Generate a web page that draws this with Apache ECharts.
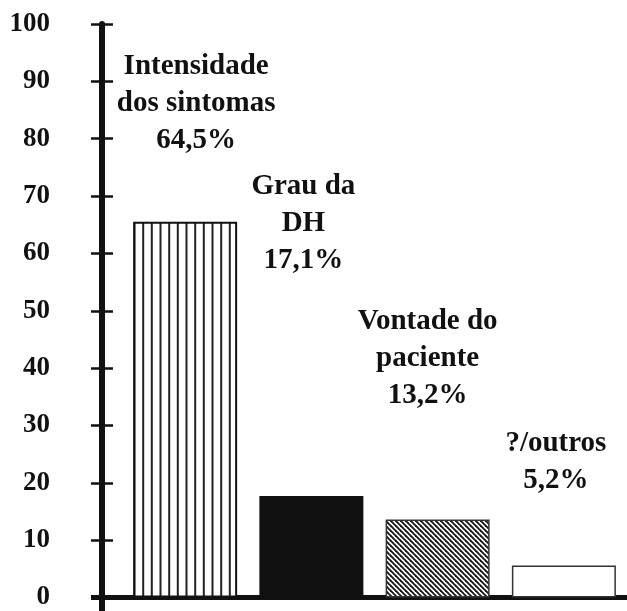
<!DOCTYPE html>
<html>
<head>
<meta charset="utf-8">
<script src="https://cdn.jsdelivr.net/npm/echarts@6/dist/echarts.min.js"></script>
<style>
  html, body { margin: 0; padding: 0; background: #fff; }
  #chart { width: 627px; height: 611px; }
</style>
</head>
<body>
<div id="chart"></div>
<script>
// data
const categories = ['Intensidade\ndos sintomas', 'Grau da\nDH', 'Vontade do\npaciente', '?/outros']
const percentLabels = ['64,5%', '17,1%', '13,2%', '5,2%']
const barValues = [65.5, 17.7, 13.6, 5.6]
const yTicks = [0, 10, 20, 30, 40, 50, 60, 70, 80, 90, 100]

// label placement tweaks (pixels), the labels step down like in the original
const labelShift = [[11, -63], [-8, -217], [-10, -105], [-8, -66]]

const GRID_LEFT = 122
const Y_OFFSET = 20
const INK = '#111'
const FONT = '"Liberation Serif", "Times New Roman", serif'

const stripes = () => {
  const c = document.createElement('canvas')
  c.width = 26
  c.height = 4
  const ctx = c.getContext('2d')
  ctx.fillStyle = '#fff'
  ctx.fillRect(0, 0, 26, 4)
  ctx.fillStyle = '#222'
  ;[3.5, 12.2, 20.8].forEach(x => ctx.fillRect(x, 0, 2, 4))
  return c
}

const hatch = () => {
  const s = 5
  const c = document.createElement('canvas')
  c.width = s
  c.height = s
  const ctx = c.getContext('2d')
  ctx.fillStyle = '#fff'
  ctx.fillRect(0, 0, s, s)
  ctx.strokeStyle = '#1a1a1a'
  ctx.lineWidth = 1.9
  ;[-s, 0, s].forEach(d => {
    ctx.beginPath()
    ctx.moveTo(d - 1, -1)
    ctx.lineTo(d + s + 1, s + 1)
    ctx.stroke()
  })
  return c
}

const barStyles = [
  { color: { image: stripes(), repeat: 'repeat' }, borderColor: INK, borderWidth: 2 },
  { color: INK, borderColor: INK, borderWidth: 0 },
  { color: { image: hatch(), repeat: 'repeat' }, borderColor: '#333', borderWidth: 1.5 },
  { color: '#fff', borderColor: '#333', borderWidth: 1.5 }
]

const chart = echarts.init(document.getElementById('chart'), null, { renderer: 'canvas' })

const yAxisBase = {
  type: 'value',
  min: yTicks[0],
  max: yTicks[yTicks.length - 1],
  interval: 10,
  position: 'left',
  offset: Y_OFFSET,
  splitLine: { show: false }
}

const option = {
  animation: false,
  backgroundColor: '#fff',
  grid: { left: GRID_LEFT, right: -2, top: 24, bottom: 11, containLabel: false },
  xAxis: {
    type: 'category',
    data: categories,
    axisTick: { show: false },
    axisLabel: { show: false },
    axisLine: { lineStyle: { color: INK, width: 5 } }
  },
  yAxis: [
    {
      ...yAxisBase,
      axisLine: { show: true, lineStyle: { color: INK, width: 6 } },
      axisTick: { show: true, length: 11, lineStyle: { color: INK, width: 2.5 } },
      axisLabel: {
        margin: 52,
        color: INK,
        fontFamily: FONT,
        fontWeight: 'bold',
        fontSize: 27
      }
    },
    {
      ...yAxisBase,
      axisLine: { show: false },
      axisTick: { show: true, inside: true, length: 11, lineStyle: { color: INK, width: 2.5 } },
      axisLabel: { show: false }
    }
  ],
  series: [
    {
      type: 'bar',
      barWidth: 104,
      yAxisIndex: 0,
      data: barValues.map((v, i) => ({
        value: v,
        itemStyle: barStyles[i],
        label: {
          show: true,
          position: 'top',
          distance: 0,
          offset: labelShift[i],
          formatter: categories[i] + '\n' + percentLabels[i],
          align: 'center',
          color: INK,
          fontFamily: FONT,
          fontWeight: 'bold',
          fontSize: 29,
          lineHeight: 37
        }
      }))
    }
  ]
}

chart.setOption(option)

// axis lines in the original run past the origin a little
const zeroY = chart.convertToPixel({ yAxisIndex: 0 }, 0)
const axisX = GRID_LEFT - Y_OFFSET
chart.setOption({
  graphic: [
    {
      type: 'rect',
      z: 10,
      shape: { x: axisX - 11, y: zeroY - 2.5, width: GRID_LEFT - axisX + 11, height: 5 },
      style: { fill: INK }
    },
    {
      type: 'rect',
      z: 10,
      shape: { x: axisX - 3, y: zeroY, width: 6, height: 611 - zeroY },
      style: { fill: INK }
    }
  ]
})
</script>
</body>
</html>
